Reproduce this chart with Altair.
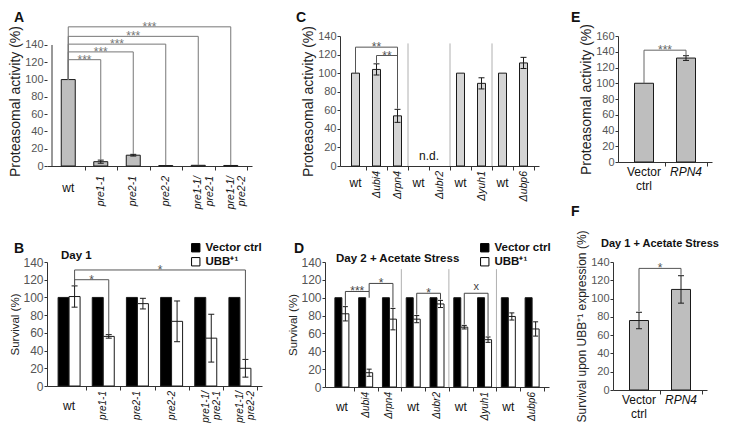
import altair as alt
import pandas as pd

FONT = "Liberation Sans"

# ---------------- data ----------------
A_CATS = ["wt", "pre1-1", "pre2-1", "pre2-2", "pre1-1/\npre2-1", "pre1-1/\npre2-2"]
A_VALS = [100, 5, 12.5, 0.5, 0.8, 0.6]
A_ERR = [0, 1.8, 1.0, 0, 0, 0]
A_SIG_TEXT = ["***", "***", "***", "***", "***"]
A_SIG_FROM = [0, 0, 0, 0, 0]
A_SIG_TO = [1, 2, 3, 4, 5]
A_SIG_LEVEL = [123, 132, 141, 150, 161]
A_SIG_LEFT = [100, 100, 100, 100, 100]
A_SIG_RIGHT = [7, 14, 1, 1, 1]

SERIES = ["Vector ctrl", "UBB\u207a\u00b9"]
SERIES_COLORS = ["#000000", "#ffffff"]

B_CATS = A_CATS
B_VEC = [100, 100, 100, 100, 100, 100]
B_UBB = [101, 56, 93, 73, 54, 20]
B_UBB_ERR = [12, 2, 6, 23, 27, 10]
B_SIG_TEXT = ["*", "*"]
B_SIG_FROM = [0, 0]
B_SIG_TO = [1, 5]
B_SIG_LEVEL = [120, 131]
B_SIG_LEFT = [113, 113]
B_SIG_RIGHT = [58, 30]

C_CATS = ["wt", "\u0394ubi4", "\u0394rpn4", "wt", "\u0394ubr2", "wt", "\u0394yuh1", "wt", "\u0394ubp6"]
C_VALS = [100, 104, 54, None, None, 100, 89, 100, 111]
C_ERR = [0, 6, 7, 0, 0, 0, 6, 0, 6]
C_SIG_TEXT = ["**", "**"]
C_SIG_FROM = [0, 1]
C_SIG_TO = [2, 2]
C_SIG_LEVEL = [128, 119]
C_SIG_LEFT = [100, 111]
C_SIG_RIGHT = [62, 62]
C_SEPARATORS = [2.5, 4.5, 6.5]

D_CATS = C_CATS
D_VEC = [100, 100, 100, 100, 100, 100, 100, 100, 100]
D_UBB = [82, 16, 76, 76, 93, 67, 53, 79, 65]
D_UBB_ERR = [8, 4, 12, 4, 4, 2, 3, 4, 8]
D_SIG_TEXT = ["***", "*", "*", "x"]
D_SIG_FROM = [0, 1, 3, 5]
D_SIG_TO = [1, 2, 4, 6]
D_SIG_LEVEL = [107, 116, 105, 105]
D_SIG_LEFT = [91, 107, 81, 70]
D_SIG_RIGHT = [100, 89, 98, 57]
D_SEPARATORS = [2.5, 4.5, 6.5]

E_CATS = ["Vector\nctrl", "RPN4"]
E_VALS = [100, 132]
E_ERR = [0, 3]
E_SIG_TEXT = ["***"]
E_SIG_FROM = [0]
E_SIG_TO = [1]
E_SIG_LEVEL = [142]
E_SIG_LEFT = [100]
E_SIG_RIGHT = [135]

F_CATS = E_CATS
F_VALS = [76, 110]
F_ERR = [9, 15]
F_SIG_TEXT = ["*"]
F_SIG_FROM = [0]
F_SIG_TO = [1]
F_SIG_LEVEL = [133]
F_SIG_LEFT = [86]
F_SIG_RIGHT = [126]


# ---------------- helpers ----------------
class P:
    def __init__(self, n, top, ytitle, tfs=12, lfs=11, dom_top=None):
        self.top = top
        self.extended = dom_top is not None
        self.xs = alt.Scale(domain=[-0.5, n - 0.5], nice=False, zero=False)
        self.ys = alt.Scale(domain=[0, dom_top if self.extended else top], nice=False, zero=False)
        self.xa = alt.Axis(values=[i + 0.5 for i in range(n)], labels=False, title=None,
                           grid=False, tickSize=4)
        self.ya = alt.Axis(values=list(range(0, top + 1, 20)), title=ytitle, grid=False,
                           titleFontSize=tfs, labelFontSize=lfs, domain=not self.extended)

    def X(self, f):
        return alt.X(f"{f}:Q", scale=self.xs, axis=self.xa)

    def Y(self, f):
        return alt.Y(f"{f}:Q", scale=self.ys, axis=self.ya)

    def axis_line(self):
        # y-axis line that stops at the last tick when the plot area is taller
        d = pd.DataFrame({"x": [-0.5], "lo": [0], "hi": [self.top]})
        return alt.Chart(d).mark_rule(color="#333", strokeWidth=1).encode(
            x=self.X("x"), y=self.Y("lo"), y2="hi:Q")


def bar_layer(p, cats, vals, width, offset=0.0, fill="#c0c0c0", fill_enc=None, series=None):
    d = pd.DataFrame({"pos": list(range(len(cats))), "val": vals})
    d = d.dropna()
    if series is not None:
        d["series"] = series
    kw = dict(width=width, stroke="#1a1a1a", strokeWidth=1)
    if offset:
        kw["xOffset"] = offset
    if fill_enc is None:
        kw["fill"] = fill
    ch = alt.Chart(d).mark_bar(**kw).encode(x=p.X("pos"), y=p.Y("val"))
    if fill_enc is not None:
        ch = ch.encode(fill=fill_enc)
    return ch


def err_layers(p, vals, errs, offset=0.0, cap=3.0, color="#1a1a1a"):
    d = pd.DataFrame({"pos": list(range(len(vals))), "val": vals, "err": errs}).dropna()
    d = d[d.err > 0].copy()
    d["lo"] = d.val - d.err
    d["hi"] = d.val + d.err
    v = alt.Chart(d).mark_rule(color=color, strokeWidth=1, xOffset=offset).encode(
        x=p.X("pos"), y=p.Y("lo"), y2="hi:Q")
    caps = d.melt(id_vars=["pos"], value_vars=["lo", "hi"], value_name="cap")
    c = alt.Chart(caps).mark_rule(color=color, strokeWidth=1, xOffset=offset - cap,
                                  x2Offset=offset + cap).encode(
        x=p.X("pos"), x2="pos:Q", y=p.Y("cap"))
    return [v, c]


def sig_layers(p, texts, frm, to, level, left, right, offset=0.0, color="#666", fs=11):
    d = pd.DataFrame({"t": texts, "a": frm, "b": to, "lev": level, "l": left, "r": right})
    d["mid"] = (d.a + d.b) / 2
    h = alt.Chart(d).mark_rule(color=color, strokeWidth=1, xOffset=offset, x2Offset=offset).encode(
        x=p.X("a"), x2="b:Q", y=p.Y("lev"))
    lft = alt.Chart(d).mark_rule(color=color, strokeWidth=1, xOffset=offset).encode(
        x=p.X("a"), y=p.Y("l"), y2="lev:Q")
    rgt = alt.Chart(d).mark_rule(color=color, strokeWidth=1, xOffset=offset).encode(
        x=p.X("b"), y=p.Y("r"), y2="lev:Q")
    out = [h, lft, rgt]
    stars = d[d.t != "x"]
    if len(stars):
        out.append(alt.Chart(stars).mark_text(color=color, fontSize=fs, baseline="alphabetic", dy=4,
                                              xOffset=offset, font=FONT).encode(
            x=p.X("mid"), y=p.Y("lev"), text="t:N"))
    xs = d[d.t == "x"]
    if len(xs):
        out.append(alt.Chart(xs).mark_text(color=color, fontSize=fs - 1, baseline="alphabetic", dy=-3,
                                           xOffset=offset, font=FONT).encode(
            x=p.X("mid"), y=p.Y("lev"), text="t:N"))
    return out


def cat_labels(p, cats, wt_off, rot_off, rot_fs, wt_fs=12, color="#111"):
    d = pd.DataFrame({"pos": list(range(len(cats))), "cat": cats, "zero": 0})
    hz = d[d.cat == "wt"]
    rt = d[d.cat != "wt"]
    a = alt.Chart(hz).mark_text(fontSize=wt_fs, baseline="middle", yOffset=wt_off, color=color,
                                font=FONT).encode(x=p.X("pos"), y=p.Y("zero"), text="cat:N")
    b = alt.Chart(rt).mark_text(fontSize=rot_fs, angle=270, align="right", baseline="middle",
                                fontStyle="italic", lineBreak="\n", lineHeight=rot_fs + 1,
                                yOffset=rot_off, color=color, font=FONT).encode(
        x=p.X("pos"), y=p.Y("zero"), text="cat:N")
    return [a, b]


def ef_labels(p, cats, off=5, fs=12, color="#111"):
    d = pd.DataFrame({"pos": list(range(len(cats))), "cat": cats, "zero": 0})
    n = d[d.cat != "RPN4"]
    it = d[d.cat == "RPN4"]
    a = alt.Chart(n).mark_text(fontSize=fs, baseline="top", yOffset=off, lineBreak="\n",
                               lineHeight=fs + 2, color=color, font=FONT).encode(
        x=p.X("pos"), y=p.Y("zero"), text="cat:N")
    b = alt.Chart(it).mark_text(fontSize=fs, baseline="top", yOffset=off, fontStyle="italic",
                                color=color, font=FONT).encode(
        x=p.X("pos"), y=p.Y("zero"), text="cat:N")
    return [a, b]


def separators(p, xs_list, top=132, color="#b0b0b0"):
    d = pd.DataFrame({"s": xs_list, "lo": 0, "hi": top})
    return alt.Chart(d).mark_rule(color=color, strokeWidth=1).encode(
        x=p.X("s"), y=p.Y("lo"), y2="hi:Q")


def note(p, text, x, y, align="left", dx=0, fs=11, weight="bold", color="#111", baseline="middle"):
    d = pd.DataFrame({"x": [x], "y": [y], "t": [text]})
    return alt.Chart(d).mark_text(align=align, baseline=baseline, dx=dx, fontSize=fs,
                                  fontWeight=weight, color=color, font=FONT).encode(
        x=p.X("x"), y=p.Y("y"), text="t:N")


def letter(p, text, yval, dx):
    # panel letter, placed relative to a panel's plot area
    return note(p, text, -0.5, yval, align="left", dx=dx, fs=14, baseline="top")


def legend_fill(lx, ly):
    return alt.Fill("series:N", scale=alt.Scale(domain=SERIES, range=SERIES_COLORS),
                    legend=alt.Legend(title=None, orient="none", legendX=lx, legendY=ly,
                                      symbolType="square", symbolSize=70,
                                      symbolStrokeColor="#000000", symbolStrokeWidth=1,
                                      symbolOpacity=1, labelFontSize=11.5, labelFontWeight="bold",
                                      labelColor="#111", labelFont=FONT, rowPadding=1,
                                      labelOffset=4, padding=0))


# ---------------- panel A ----------------
pA = P(len(A_CATS), 140, "Proteasomal activity (%)", tfs=14, dom_top=150.4)
A = alt.layer(
    pA.axis_line(),
    bar_layer(pA, A_CATS, A_VALS, 14, fill="#bebebe"),
    *err_layers(pA, A_VALS, A_ERR),
    *sig_layers(pA, A_SIG_TEXT, A_SIG_FROM, A_SIG_TO, A_SIG_LEVEL, A_SIG_LEFT, A_SIG_RIGHT,
                color="#777", fs=12),
    *cat_labels(pA, A_CATS, 22, 10, 10.5),
    letter(pA, "A", 179.3, -38),
).properties(width=205, height=130)

# ---------------- panel B ----------------
pB = P(len(B_CATS), 140, "Survival (%)", tfs=11.5, lfs=12)
fB = legend_fill(143, -20)
B = alt.layer(
    bar_layer(pB, B_CATS, B_VEC, 11, offset=-5.5, fill_enc=fB, series=SERIES[0]),
    bar_layer(pB, B_CATS, B_UBB, 11, offset=5.5, fill_enc=fB, series=SERIES[1]),
    *err_layers(pB, B_UBB, B_UBB_ERR, offset=5.5),
    *sig_layers(pB, B_SIG_TEXT, B_SIG_FROM, B_SIG_TO, B_SIG_LEVEL, B_SIG_LEFT, B_SIG_RIGHT,
                offset=5.5, color="#555", fs=12),
    *cat_labels(pB, B_CATS, 20, 5, 10),
    note(pB, "Day 1", -0.5, 147, dx=9, fs=11.5),
    letter(pB, "B", 162.6, -38),
).properties(width=215, height=124)

# ---------------- panel C ----------------
pC = P(len(C_CATS), 140, "Proteasomal activity (%)", tfs=14)
C = alt.layer(
    separators(pC, C_SEPARATORS),
    bar_layer(pC, C_CATS, C_VALS, 8, fill="#d4d4d4"),
    *err_layers(pC, C_VALS, C_ERR),
    *sig_layers(pC, C_SIG_TEXT, C_SIG_FROM, C_SIG_TO, C_SIG_LEVEL, C_SIG_LEFT, C_SIG_RIGHT,
                color="#555", fs=12),
    note(pC, "n.d.", 3.5, 11, align="center", fs=12, weight="normal"),
    *cat_labels(pC, C_CATS, 17, 5, 10.5),
    letter(pC, "C", 166.9, -49),
).properties(width=199, height=130)

# ---------------- panel D ----------------
pD = P(len(D_CATS), 140, "Survival (%)", tfs=11.5, lfs=12)
fD = legend_fill(154, -20)
D = alt.layer(
    separators(pD, D_SEPARATORS),
    bar_layer(pD, D_CATS, D_VEC, 7, offset=-3.5, fill_enc=fD, series=SERIES[0]),
    bar_layer(pD, D_CATS, D_UBB, 7, offset=3.5, fill_enc=fD, series=SERIES[1]),
    *err_layers(pD, D_UBB, D_UBB_ERR, offset=3.5, cap=2.5),
    *sig_layers(pD, D_SIG_TEXT, D_SIG_FROM, D_SIG_TO, D_SIG_LEVEL, D_SIG_LEFT, D_SIG_RIGHT,
                offset=3.5, color="#444", fs=12),
    *cat_labels(pD, D_CATS, 20, 5, 10),
    note(pD, "Day 2 + Acetate Stress", -0.5, 143, dx=6, fs=11.5),
    letter(pD, "D", 162.4, -36),
).properties(width=224, height=125)

# ---------------- panel E (also carries the letter of panel F below it) ----------------
pE = P(len(E_CATS), 160, "Proteasomal activity (%)", tfs=14)
E = alt.layer(
    bar_layer(pE, E_CATS, E_VALS, 19, fill="#bebebe"),
    *err_layers(pE, E_VALS, E_ERR),
    *sig_layers(pE, E_SIG_TEXT, E_SIG_FROM, E_SIG_TO, E_SIG_LEVEL, E_SIG_LEFT, E_SIG_RIGHT,
                color="#666", fs=12),
    *ef_labels(pE, E_CATS),
    letter(pE, "E", 191.7, -52),
    letter(pE, "F", -54.6, -52),
).properties(width=94, height=126)

# ---------------- panel F ----------------
pF = P(len(F_CATS), 140, "Survival upon UBB\u207a\u00b9 expression (%)", tfs=12)
F = alt.layer(
    bar_layer(pF, F_CATS, F_VALS, 19, fill="#bebebe"),
    *err_layers(pF, F_VALS, F_ERR),
    *sig_layers(pF, F_SIG_TEXT, F_SIG_FROM, F_SIG_TO, F_SIG_LEVEL, F_SIG_LEFT, F_SIG_RIGHT,
                color="#555", fs=12),
    note(pF, "Day 1 + Acetate Stress", 0.5, 160, align="center", fs=11),
    *ef_labels(pF, F_CATS),
).properties(width=94, height=128)


def indep(c):
    return c.resolve_scale(fill="independent").resolve_legend(fill="independent")


top_row = indep(alt.hconcat(A, alt.hconcat(C, E, spacing=32), spacing=44))
bottom_row = indep(alt.hconcat(B, alt.hconcat(D, F, spacing=26), spacing=25))

chart = (
    indep(alt.concat(top_row, bottom_row, columns=1, spacing=10, align="each"))
    .properties(padding={"left": 0, "top": 3, "right": 0, "bottom": 0})
    .configure_view(stroke=None)
    .configure_axis(domainColor="#333", tickColor="#333", labelColor="#555",
                    titleFontWeight="normal", titleColor="#222",
                    labelFont=FONT, titleFont=FONT, labelPadding=1, titlePadding=2,
                    tickSize=3, grid=False)
    .configure_text(font=FONT)
)

chart.save("out.html", embed_options={"renderer": "svg", "actions": False})
